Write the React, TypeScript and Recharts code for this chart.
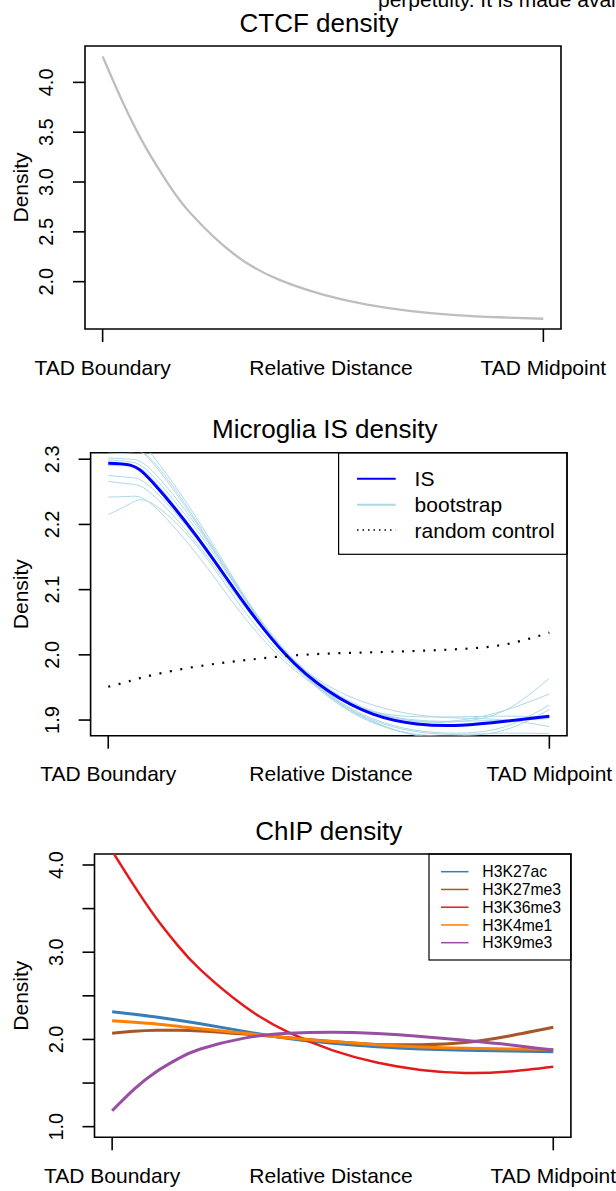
import React from 'react';
import { LineChart, Line, XAxis, YAxis, ReferenceArea, Customized } from 'recharts';

const FONT = '"Liberation Sans", Arial, Helvetica, sans-serif';

// ---------- shared x axis ----------
const xTickValues = [0, 0.5, 1];
const xTickLabels = ['TAD Boundary', 'Relative Distance', 'TAD Midpoint'];
const xDomain = [-0.04, 1.04];

// ---------- panel 1: CTCF ----------
const ctcfT = [0, 0.05, 0.1, 0.15, 0.2, 0.3, 0.4, 0.5, 0.6, 0.7, 0.8, 0.9, 1];
const ctcfDensity = [4.26, 3.76, 3.33, 2.975, 2.685, 2.27, 2.02, 1.87, 1.77, 1.705, 1.665, 1.643, 1.628];
const ctcfYTicks = [2.0, 2.5, 3.0, 3.5, 4.0];
const ctcfYDomain = [1.525, 4.365];

// ---------- panel 2: Microglia IS ----------
const isT = [0, 0.05, 0.1, 0.2, 0.3, 0.4, 0.5, 0.6, 0.7, 0.8, 0.9, 1];
const isDensity = [2.294, 2.291, 2.265, 2.182, 2.087, 2.002, 1.944, 1.909, 1.894, 1.892, 1.898, 1.906];
const randomControl = [1.951, 1.960, 1.969, 1.982, 1.991, 1.998, 2.002, 2.004, 2.006, 2.009, 2.016, 2.034];
const boot1 = [2.215, 2.232, 2.232, 2.168, 2.075, 1.995, 1.942, 1.912, 1.900, 1.898, 1.900, 1.902];
const boot2 = [2.242, 2.243, 2.230, 2.155, 2.065, 1.990, 1.940, 1.913, 1.905, 1.905, 1.906, 1.905];
const boot3 = [2.266, 2.262, 2.246, 2.172, 2.082, 2.002, 1.945, 1.912, 1.898, 1.900, 1.915, 1.940];
const boot4 = [2.275, 2.272, 2.255, 2.178, 2.085, 2.000, 1.938, 1.900, 1.882, 1.878, 1.880, 1.879];
const boot5 = [2.299, 2.296, 2.275, 2.192, 2.095, 2.008, 1.948, 1.914, 1.898, 1.898, 1.915, 1.964];
const boot6 = [2.302, 2.300, 2.282, 2.198, 2.096, 2.004, 1.937, 1.897, 1.877, 1.872, 1.872, 1.875];
const boot7 = [2.320, 2.318, 2.295, 2.202, 2.095, 2.001, 1.935, 1.896, 1.878, 1.876, 1.885, 1.916];
const boot8 = [2.335, 2.333, 2.306, 2.210, 2.100, 2.005, 1.940, 1.902, 1.884, 1.880, 1.890, 1.923];
const boot9 = [2.310, 2.310, 2.298, 2.205, 2.098, 2.006, 1.952, 1.923, 1.908, 1.903, 1.900, 1.890];
const boot10 = [2.290, 2.290, 2.270, 2.185, 2.090, 2.002, 1.938, 1.898, 1.876, 1.868, 1.866, 1.870];
const bootstraps = [boot1, boot2, boot3, boot4, boot5, boot6, boot7, boot8, boot9, boot10];
const isYTicks = [1.9, 2.0, 2.1, 2.2, 2.3];
const isYDomain = [1.876, 2.31];

// ---------- panel 3: ChIP ----------
const chipT = [0, 0.05, 0.1, 0.15, 0.2, 0.3, 0.4, 0.5, 0.6, 0.7, 0.8, 0.9, 1];
const chipNames = ['H3K27ac', 'H3K27me3', 'H3K36me3', 'H3K4me1', 'H3K9me3'];
const chipColors = ['#377EB8', '#A65628', '#E41A1C', '#FF7F00', '#984EA3'];
const h3k27ac = [2.318, 2.288, 2.256, 2.219, 2.180, 2.092, 2.010, 1.955, 1.915, 1.890, 1.875, 1.866, 1.859];
const h3k27me3 = [2.07, 2.093, 2.105, 2.106, 2.098, 2.062, 2.018, 1.975, 1.943, 1.940, 1.965, 2.040, 2.139];
const h3k36me3 = [4.16, 3.76, 3.39, 3.07, 2.80, 2.38, 2.08, 1.875, 1.735, 1.65, 1.615, 1.632, 1.687];
const h3k4me1 = [2.215, 2.197, 2.177, 2.150, 2.122, 2.070, 2.017, 1.975, 1.940, 1.914, 1.899, 1.890, 1.886];
const h3k9me3 = [1.182, 1.43, 1.63, 1.78, 1.89, 2.015, 2.07, 2.083, 2.068, 2.035, 1.99, 1.94, 1.878];
const chipSeries = [h3k27ac, h3k27me3, h3k36me3, h3k4me1, h3k9me3];
const chipYTicks = [1.0, 1.5, 2.0, 2.5, 3.0, 3.5, 4.0];
const chipYLabels = [1.0, 2.0, 3.0, 4.0];
const chipYDomain = [0.878, 4.126];

// ---------- data tables ----------
const ctcfData = ctcfT.map((t, i) => ({ t, ctcf: ctcfDensity[i] }));
const isData = isT.map((t, i) => {
  const row: any = { t, IS: isDensity[i], random: randomControl[i] };
  bootstraps.forEach((b, k) => { row['b' + k] = b[i]; });
  return row;
});
const chipData = chipT.map((t, i) => {
  const row: any = { t };
  chipNames.forEach((n, k) => { row[n] = chipSeries[k][i]; });
  return row;
});

// ---------- ticks ----------
const makeXTick = (midX: number) => (props: any) => {
  const { x, y, payload } = props;
  const i = xTickValues.indexOf(payload.value);
  return (
    <g>
      {i !== 1 && <line x1={x} x2={x} y1={y} y2={y + 13} stroke="#000" strokeWidth={1.6} />}
      <text x={i === 1 ? midX : x} y={y + 45.5} textAnchor="middle" fontSize={21} fontFamily={FONT} fill="#000">
        {xTickLabels[i]}
      </text>
    </g>
  );
};

const makeYTick = (labelled: number[] | null) => (props: any) => {
  const { x, y, payload } = props;
  const v = payload.value as number;
  const show = !labelled || labelled.some((l) => Math.abs(l - v) < 1e-6);
  return (
    <g>
      <line x1={x - 12} x2={x} y1={y} y2={y} stroke="#000" strokeWidth={1.6} />
      {show && (
        <text transform={`translate(${x - 32},${y}) rotate(-90)`} textAnchor="middle" fontSize={20} fontFamily={FONT} fill="#000">
          {v.toFixed(1)}
        </text>
      )}
    </g>
  );
};

type Box = { left: number; right: number; top: number; bottom: number };

const Decor = ({ box, title }: { box: Box; title: string }) => {
  const cx = (box.left + box.right) / 2 - 4;
  const cy = (box.top + box.bottom) / 2;
  return (
    <g>
      <text x={cx} y={box.top - 14.5} textAnchor="middle" fontSize={26} fontFamily={FONT} fill="#000">{title}</text>
      <text transform={`translate(28,${cy}) rotate(-90)`} textAnchor="middle" fontSize={21} fontFamily={FONT} fill="#000">Density</text>
    </g>
  );
};

const W = 616;

function Panel1() {
  const H = 392;
  const box = { left: 85, right: 561, top: 46, bottom: 329 };
  return (
    <LineChart width={W} height={H} data={ctcfData} margin={{ top: box.top, right: W - box.right, left: 0, bottom: 0 }}>
      <XAxis dataKey="t" type="number" domain={xDomain} ticks={xTickValues} interval={0} height={H - box.bottom}
        axisLine={false} tickLine={false} tickSize={0} tickMargin={0} tick={makeXTick(331)} allowDataOverflow />
      <YAxis type="number" domain={ctcfYDomain} ticks={ctcfYTicks} interval={0} width={box.left}
        axisLine={false} tickLine={false} tickSize={0} tickMargin={0} tick={makeYTick(null)} allowDataOverflow />
      <ReferenceArea x1={xDomain[0]} x2={xDomain[1]} y1={ctcfYDomain[0]} y2={ctcfYDomain[1]} fill="none" fillOpacity={0} stroke="#000" strokeWidth={1.6} />
      <Line type="natural" dataKey="ctcf" stroke="#BEBEBE" strokeWidth={2.3} dot={false} isAnimationActive={false} />
      <Customized component={
        <g>
          <Decor box={box} title="CTCF density" />
          <text x={378} y={7} fontSize={21} fontFamily={FONT} fill="#000">perpetuity. It is made available under a</text>
        </g>
      } />
    </LineChart>
  );
}

function Panel2() {
  const H = 400;
  const box = { left: 90.6, right: 567, top: 60.7, bottom: 343.7 };
  const lg = { left: 338.6, top: box.top, w: 567 - 338.6, h: 101.6 };
  const items = [
    { label: 'IS', stroke: '#0000FF', w: 2, dash: undefined as string | undefined },
    { label: 'bootstrap', stroke: '#ADD8E6', w: 2, dash: undefined },
    { label: 'random control', stroke: '#000', w: 1.5, dash: '1.5 4' },
  ];
  const rowY = [26, 52, 77.3];
  return (
    <LineChart width={W} height={H} data={isData} margin={{ top: box.top, right: W - box.right, left: 0, bottom: 0 }}>
      <XAxis dataKey="t" type="number" domain={xDomain} ticks={xTickValues} interval={0} height={H - box.bottom}
        axisLine={false} tickLine={false} tickSize={0} tickMargin={0} tick={makeXTick(331)} allowDataOverflow />
      <YAxis type="number" domain={isYDomain} ticks={isYTicks} interval={0} width={box.left}
        axisLine={false} tickLine={false} tickSize={0} tickMargin={0} tick={makeYTick(null)} allowDataOverflow />
      {bootstraps.map((_, k) => (
        <Line key={k} type="natural" dataKey={'b' + k} stroke="#ADD8E6" strokeWidth={1} dot={false} isAnimationActive={false} />
      ))}
      <Line type="natural" dataKey="IS" stroke="#0000FF" strokeWidth={3} dot={false} isAnimationActive={false} />
      <Line type="natural" dataKey="random" stroke="#000" strokeWidth={2.2} strokeDasharray="2 8.6" dot={false} isAnimationActive={false} />
      <ReferenceArea x1={xDomain[0]} x2={xDomain[1]} y1={isYDomain[0]} y2={isYDomain[1]} fill="none" fillOpacity={0} stroke="#000" strokeWidth={1.6} />
      <Customized component={
        <g>
          <Decor box={box} title="Microglia IS density" />
          <rect x={lg.left} y={lg.top} width={lg.w} height={lg.h} fill="#fff" stroke="#000" strokeWidth={1.2} />
          {items.map((it, i) => (
            <g key={it.label}>
              <line x1={357} x2={395.7} y1={lg.top + rowY[i]} y2={lg.top + rowY[i]} stroke={it.stroke} strokeWidth={it.w} strokeDasharray={it.dash} />
              <text x={414.6} y={lg.top + rowY[i] + 7.5} fontSize={21} fontFamily={FONT} fill="#000">{it.label}</text>
            </g>
          ))}
        </g>
      } />
    </LineChart>
  );
}

function Panel3() {
  const H = 399;
  const box = { left: 94.5, right: 570.9, top: 62, bottom: 345.3 };
  const lg = { left: 429, top: box.top, w: 570.9 - 429, h: 106 };
  return (
    <LineChart width={W} height={H} data={chipData} margin={{ top: box.top, right: W - box.right, left: 0, bottom: 0 }}>
      <XAxis dataKey="t" type="number" domain={xDomain} ticks={xTickValues} interval={0} height={H - box.bottom}
        axisLine={false} tickLine={false} tickSize={0} tickMargin={0} tick={makeXTick(331)} allowDataOverflow />
      <YAxis type="number" domain={chipYDomain} ticks={chipYTicks} interval={0} width={box.left}
        axisLine={false} tickLine={false} tickSize={0} tickMargin={0} tick={makeYTick(chipYLabels)} allowDataOverflow />
      {chipNames.map((n, k) => (
        <Line key={n} type="natural" dataKey={n} stroke={chipColors[k]} strokeWidth={n === 'H3K36me3' ? 2.5 : 3} dot={false} isAnimationActive={false} />
      ))}
      <ReferenceArea x1={xDomain[0]} x2={xDomain[1]} y1={chipYDomain[0]} y2={chipYDomain[1]} fill="none" fillOpacity={0} stroke="#000" strokeWidth={1.6} />
      <Customized component={
        <g>
          <Decor box={box} title="ChIP density" />
          <rect x={lg.left} y={lg.top} width={lg.w} height={lg.h} fill="#fff" stroke="#000" strokeWidth={1.2} />
          {chipNames.map((n, i) => {
            const yy = lg.top + 17.7 + i * 17.75;
            return (
              <g key={n}>
                <line x1={441} x2={468.5} y1={yy} y2={yy} stroke={chipColors[i]} strokeWidth={1.5} />
                <text x={482.3} y={yy + 5.6} fontSize={15.75} fontFamily={FONT} fill="#000">{n}</text>
              </g>
            );
          })}
        </g>
      } />
    </LineChart>
  );
}

export default function App() {
  return (
    <div style={{ position: 'absolute', left: 0, top: 0, width: 616, height: 1191, overflow: 'hidden', background: '#fff' }}>
      <div style={{ position: 'absolute', left: 0, top: 0 }}><Panel1 /></div>
      <div style={{ position: 'absolute', left: 0, top: 392 }}><Panel2 /></div>
      <div style={{ position: 'absolute', left: 0, top: 792 }}><Panel3 /></div>
    </div>
  );
}
